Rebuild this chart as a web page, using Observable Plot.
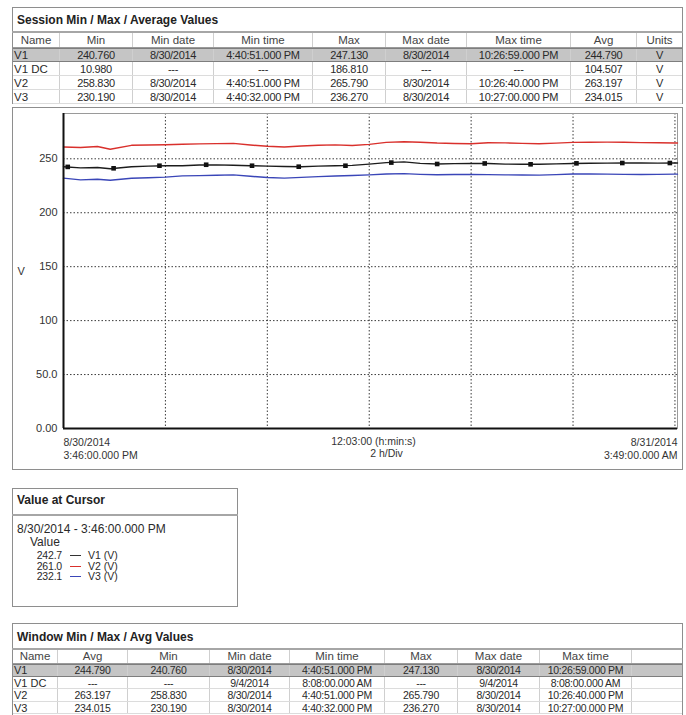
<!DOCTYPE html>
<html>
<head>
<meta charset="utf-8">
<script src="https://cdn.jsdelivr.net/npm/d3@7"></script>
<script src="https://cdn.jsdelivr.net/npm/@observablehq/plot@0.6"></script>
<style>
  html, body { margin: 0; padding: 0; background: #fff; }
  body { width: 686px; height: 715px; overflow: hidden; position: relative;
         font-family: "Liberation Sans", Arial, sans-serif; color: #2a2a2a; }
  .panel { position: absolute; background: #fff; outline: 1px solid #8e8e8e; outline-offset: -1px; }
  .ptitle { position: absolute; left: 5px; font-weight: bold; font-size: 12px; line-height: 14px; color: #222; }
  .tbar { position: absolute; left: 0; right: 0; height: 0; border-top: 2px solid #a6a6a6; }
  .row { position: absolute; left: 1px; right: 1px; }
  .cell { position: absolute; top: 0; bottom: 0; text-align: center; white-space: nowrap; overflow: hidden;
          border-right: 1px solid #cfcfcf; box-sizing: border-box; }
  .hdr .cell { font-size: 11.5px; color: #444; }
  .dat .cell { font-size: 11px; letter-spacing: -0.3px; }
  .dat .cell.name { text-align: left; padding-left: 1px; letter-spacing: 0; font-size: 11.5px; }
  #window .dat .cell { font-size: 10.5px; }
  #window .dat .cell.name { font-size: 11px; }
  .hl { background: #c5c5c5; border-top: 1px solid #7e7e7e; border-bottom: 1px solid #7e7e7e; box-sizing: border-box; }
  .txt { position: absolute; white-space: nowrap; }
</style>
</head>
<body>
<div id="session" class="panel" style="left:12px;top:7px;width:671px;height:97px;"></div>
<div id="chartPanel" class="panel" style="left:12px;top:107px;width:671px;height:363px;"></div>
<div id="cursor" class="panel" style="left:12px;top:488px;width:226px;height:119px;"></div>
<div id="window" class="panel" style="left:12px;top:623px;width:671px;height:100px;"></div>
<script>
// ---------------- DATA ----------------
// Session Min / Max / Average table
const sessionHeaders = ["Name", "Min", "Min date", "Min time", "Max", "Max date", "Max time", "Avg", "Units"];
const sessionNames   = ["V1", "V1 DC", "V2", "V3"];
const sessionMin     = ["240.760", "10.980", "258.830", "230.190"];
const sessionMinDate = ["8/30/2014", "---", "8/30/2014", "8/30/2014"];
const sessionMinTime = ["4:40:51.000 PM", "---", "4:40:51.000 PM", "4:40:32.000 PM"];
const sessionMax     = ["247.130", "186.810", "265.790", "236.270"];
const sessionMaxDate = ["8/30/2014", "---", "8/30/2014", "8/30/2014"];
const sessionMaxTime = ["10:26:59.000 PM", "---", "10:26:40.000 PM", "10:27:00.000 PM"];
const sessionAvg     = ["244.790", "104.507", "263.197", "234.015"];
const sessionUnits   = ["V", "V", "V", "V"];

// Window Min / Max / Avg table
const windowHeaders = ["Name", "Avg", "Min", "Min date", "Min time", "Max", "Max date", "Max time", ""];
const windowNames   = ["V1", "V1 DC", "V2", "V3"];
const windowAvg     = ["244.790", "---", "263.197", "234.015"];
const windowMin     = ["240.760", "---", "258.830", "230.190"];
const windowMinDate = ["8/30/2014", "9/4/2014", "8/30/2014", "8/30/2014"];
const windowMinTime = ["4:40:51.000 PM", "8:08:00.000 AM", "4:40:51.000 PM", "4:40:32.000 PM"];
const windowMax     = ["247.130", "---", "265.790", "236.270"];
const windowMaxDate = ["8/30/2014", "9/4/2014", "8/30/2014", "8/30/2014"];
const windowMaxTime = ["10:26:59.000 PM", "8:08:00.000 AM", "10:26:40.000 PM", "10:27:00.000 PM"];

// Value at cursor
const cursorTime   = "8/30/2014 - 3:46:00.000 PM";
const cursorValues = ["242.7", "261.0", "232.1"];
const cursorNames  = ["V1 (V)", "V2 (V)", "V3 (V)"];

// Chart time series (UTC used as wall clock)
const sampleTimes = [
  "2014-08-30T15:46","2014-08-30T16:06","2014-08-30T16:26","2014-08-30T16:41","2014-08-30T17:06",
  "2014-08-30T17:26","2014-08-30T17:46","2014-08-30T18:06","2014-08-30T18:26","2014-08-30T18:46",
  "2014-08-30T19:06","2014-08-30T19:26","2014-08-30T19:46","2014-08-30T20:06","2014-08-30T20:26",
  "2014-08-30T20:46","2014-08-30T21:06","2014-08-30T21:26","2014-08-30T21:46","2014-08-30T22:06",
  "2014-08-30T22:27","2014-08-30T22:46","2014-08-30T23:06","2014-08-30T23:26","2014-08-30T23:46",
  "2014-08-31T00:06","2014-08-31T00:26","2014-08-31T00:46","2014-08-31T01:06","2014-08-31T01:26",
  "2014-08-31T01:46","2014-08-31T02:06","2014-08-31T02:26","2014-08-31T02:46","2014-08-31T03:06",
  "2014-08-31T03:26","2014-08-31T03:46","2014-08-31T03:49"
];
const v1Values = [242.7,241.6,242.0,240.76,242.6,243.2,243.6,243.6,244.3,244.4,
                  244.0,243.6,243.2,242.9,242.7,243.2,243.5,243.9,245.1,246.5,
                  247.13,245.8,245.2,245.5,245.8,245.7,245.1,244.9,245.0,245.3,
                  245.7,245.9,246.0,246.1,246.1,246.0,246.1,246.1];
const v2Values = [261.0,260.5,261.4,258.83,262.5,262.8,263.1,263.5,263.8,264.1,
                  264.3,262.8,261.6,261.0,261.9,262.6,262.9,262.3,263.4,265.2,
                  265.79,265.4,264.6,264.2,263.9,264.9,264.8,264.3,263.9,264.5,
                  265.2,265.4,265.5,265.3,265.0,264.9,264.7,264.7];
const v3Values = [232.1,230.5,231.1,230.19,232.0,232.4,233.0,234.2,234.4,234.7,
                  235.1,233.8,232.7,232.1,232.8,233.5,234.0,234.5,235.1,235.9,
                  236.27,235.6,235.2,235.4,235.5,235.3,235.1,235.0,234.9,235.3,
                  235.9,235.9,235.8,235.6,235.5,235.6,235.8,235.8];

// Square markers drawn on the V1 trace
const markerTimes = ["2014-08-30T15:51","2014-08-30T16:45","2014-08-30T17:39","2014-08-30T18:34","2014-08-30T19:28",
                     "2014-08-30T20:23","2014-08-30T21:18","2014-08-30T22:12","2014-08-30T23:06","2014-08-31T00:02",
                     "2014-08-31T00:56","2014-08-31T01:50","2014-08-31T02:44","2014-08-31T03:40"];
const markerValues = [242.5,241.2,243.6,244.5,243.6,242.7,243.6,246.5,245.2,245.7,244.9,245.8,246.1,246.1];

// Axes
const xStartStr = "2014-08-30T15:46";
const xEndStr   = "2014-08-31T03:49";
const xGridTimes = ["2014-08-30T17:46","2014-08-30T19:46","2014-08-30T21:46","2014-08-30T23:46",
                    "2014-08-31T01:46","2014-08-31T03:46"];
const yTickValues = [0, 50, 100, 150, 200, 250];
const yTickLabels = ["0.00", "50.0", "100", "150", "200", "250"];
const yGridValues = [50, 100, 150, 200, 250];
const yLabel = "V";
const xLabelTimes = ["2014-08-30T15:46", "2014-08-30T21:47:30", "2014-08-31T03:49"];
const xLabelLine1 = ["8/30/2014", "12:03:00 (h:min:s)", "8/31/2014"];
const xLabelLine2 = ["3:46:00.000 PM", "2 h/Div", "3:49:00.000 AM"];
const yMax = 292;

// --------------- HELPERS ---------------
const parseT = s => new Date(s.length === 16 ? s + ":00Z" : s + "Z");
const FONT = "'Liberation Sans', Arial, sans-serif";

function el(parent, cls, css, text) {
  const d = document.createElement("div");
  if (cls) d.className = cls;
  if (css) d.style.cssText = css;
  if (text != null) d.textContent = text;
  parent.appendChild(d);
  return d;
}

function buildTable(panel, title, titleY, barY, bounds, headers, columns, headTop, headH, rowH) {
  el(panel, "ptitle", `top:${titleY - 7}px;`, title);
  el(panel, "tbar", `top:${barY}px;`);
  // header
  const hr = el(panel, "row hdr", `top:${headTop}px;height:${headH}px;line-height:${headH}px;border-bottom:1px solid #9a9a9a;`);
  headers.forEach((h, j) => {
    const last = j === headers.length - 1;
    el(hr, "cell", `left:${bounds[j]}px;width:${bounds[j + 1] - bounds[j]}px;${last ? "border-right:none;" : ""}`, h);
  });
  const n = columns[0].length;
  for (let i = 0; i < n; i++) {
    const top = headTop + headH + 1 + i * rowH;
    const r = el(panel, "row dat" + (i === 0 ? " hl" : ""),
      `top:${top}px;height:${rowH}px;line-height:${rowH - (i === 0 ? 2 : 0)}px;` + (i > 0 ? "border-bottom:1px solid #dcdcdc;box-sizing:border-box;" : ""));
    headers.forEach((h, j) => {
      const last = j === headers.length - 1;
      const v = columns[j] ? columns[j][i] : "";
      el(r, "cell" + (j === 0 ? " name" : ""), `left:${bounds[j]}px;width:${bounds[j + 1] - bounds[j]}px;${last ? "border-right:none;" : ""}`, v);
    });
  }
}

// --------------- TABLES ---------------
buildTable(document.getElementById("session"), "Session Min / Max / Average Values", 13, 24,
  [0, 47, 120, 201, 300, 373, 454, 558, 624, 669],
  sessionHeaders,
  [sessionNames, sessionMin, sessionMinDate, sessionMinTime, sessionMax, sessionMaxDate, sessionMaxTime, sessionAvg, sessionUnits],
  26, 14, 14);

buildTable(document.getElementById("window"), "Window Min / Max / Avg Values", 14, 25,
  [0, 45, 115, 197, 277, 372, 445, 527, 619, 669],
  windowHeaders,
  [windowNames, windowAvg, windowMin, windowMinDate, windowMinTime, windowMax, windowMaxDate, windowMaxTime, null],
  27, 13, 12.5);

// --------------- VALUE AT CURSOR ---------------
{
  const p = document.getElementById("cursor");
  el(p, "ptitle", "top:5px;", "Value at Cursor");
  el(p, "tbar", "top:26px;");
  el(p, "txt", "left:5px;top:35px;font-size:12px;line-height:13px;", cursorTime);
  el(p, "txt", "left:18px;top:48px;font-size:12px;line-height:13px;", "Value");
  const colors = ["#333333", "#d9302c", "#3a46b8"];
  cursorValues.forEach((v, i) => {
    const y = 62 + i * 10.5;
    el(p, "txt", `left:20px;width:30px;text-align:right;top:${y}px;font-size:10.5px;line-height:10px;letter-spacing:-0.2px;`, v);
    el(p, "txt", `left:58px;width:11px;top:${y + 5}px;height:0;border-top:1px solid ${colors[i]};`);
    el(p, "txt", `left:76px;top:${y}px;font-size:10.5px;line-height:10px;`, cursorNames[i]);
  });
}

// --------------- CHART ---------------
const times = sampleTimes.map(parseT);
const v1Data = times.map((t, i) => ({t, v: v1Values[i]}));
const v2Data = times.map((t, i) => ({t, v: v2Values[i]}));
const v3Data = times.map((t, i) => ({t, v: v3Values[i]}));
const markers = markerTimes.map((s, i) => ({t: parseT(s), v: markerValues[i]}));
const xStart = parseT(xStartStr), xEnd = parseT(xEndStr);
const xLabels = xLabelTimes.map((s, i) => ({t: parseT(s), l1: xLabelLine1[i], l2: xLabelLine2[i]}));

const labelStyle = {frameAnchor: "bottom", lineAnchor: "top", fontSize: 10.5, fill: "#333"};

const chart = Plot.plot({
  width: 671,
  height: 363,
  marginLeft: 51,
  marginRight: 6,
  marginTop: 6,
  marginBottom: 42,
  style: {fontFamily: FONT, fontSize: "11px", color: "#333", background: "transparent", overflow: "visible"},
  x: {type: "utc", domain: [xStart, xEnd], axis: null},
  y: {domain: [0, yMax], ticks: yTickValues, tickFormat: d => yTickLabels[yTickValues.indexOf(d)],
      tickSize: 0, tickPadding: 6, label: null},
  marks: [
    Plot.ruleY(yGridValues, {stroke: "#3a3a3a", strokeDasharray: "1.5,2", strokeWidth: 1}),
    Plot.ruleX(xGridTimes.map(parseT), {stroke: "#3a3a3a", strokeDasharray: "1.5,2", strokeWidth: 1}),
    Plot.frame({stroke: "#9a9a9a"}),
    Plot.line(v2Data, {x: "t", y: "v", stroke: "#d9302c", strokeWidth: 1.4}),
    Plot.line(v3Data, {x: "t", y: "v", stroke: "#3a46b8", strokeWidth: 1.4}),
    Plot.line(v1Data, {x: "t", y: "v", stroke: "#1c1c1c", strokeWidth: 1.4}),
    Plot.dot(markers, {x: "t", y: "v", symbol: "square", r: 2.6, fill: "#111", stroke: null}),
    Plot.ruleX([xStart], {stroke: "#111", strokeWidth: 2}),
    Plot.ruleY([0], {stroke: "#111", strokeWidth: 2}),
    Plot.text([yLabel], {frameAnchor: "left", dx: -46, textAnchor: "start", fontSize: 11, fill: "#333"}),
    Plot.text([xLabels[0]], {x: "t", text: d => d.l1 + "\n" + d.l2, textAnchor: "start", dy: 9, lineHeight: 1.2, ...labelStyle}),
    Plot.text([xLabels[2]], {x: "t", text: d => d.l1 + "\n" + d.l2, textAnchor: "end", dy: 9, lineHeight: 1.2, ...labelStyle}),
    Plot.text([xLabels[1]], {x: "t", text: "l1", textAnchor: "middle", dy: 9, dx: 3, ...labelStyle}),
    Plot.text([xLabels[1]], {x: "t", text: "l2", textAnchor: "middle", dy: 21.5, dx: 16, ...labelStyle})
  ]
});
chart.style.position = "absolute";
chart.style.left = "0px";
chart.style.top = "0px";
document.getElementById("chartPanel").appendChild(chart);
</script>
</body>
</html>
